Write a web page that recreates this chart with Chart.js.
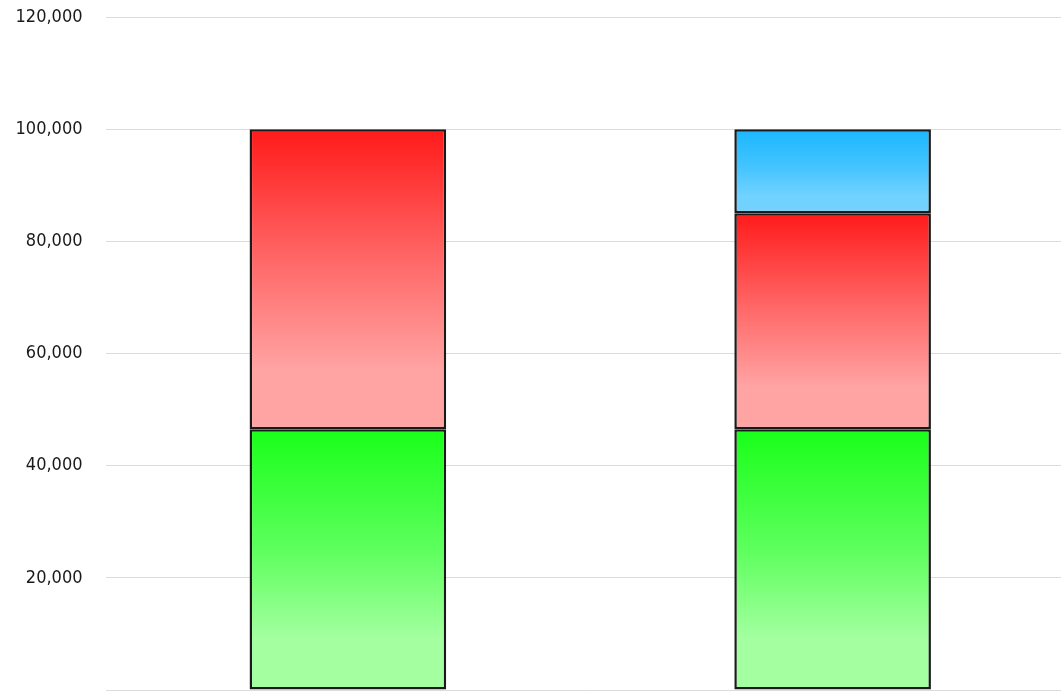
<!DOCTYPE html>
<html>
<head>
<meta charset="utf-8">
<script src="https://cdn.jsdelivr.net/npm/chart.js@4/dist/chart.umd.min.js"></script>
<style>
  html, body { margin: 0; padding: 0; background: #fff; overflow: hidden; }
  #wrap { position: absolute; left: 0; top: 0; width: 1075px; height: 691px; }
</style>
</head>
<body>
<div id="wrap"><canvas id="c"></canvas></div>
<script>
const categories = ['A', 'B'];
const greenValues = [46500, 46500];
const redValues = [53500, 38500];
const blueValues = [0, 15000];
const yTicks = [20000, 40000, 60000, 80000, 100000, 120000];

const seriesList = [greenValues, redValues, blueValues];
const gradStops = [
  ['#19ff19', '#5cff5c', '#a3ffa0'],
  ['#ff1a1a', '#ff6a6a', '#ffa3a3'],
  ['#1ab7ff', '#44c4ff', '#72d2ff']
];

function makeBg(dsIndex) {
  return function(ctx) {
    const chart = ctx.chart;
    if (!chart.chartArea || ctx.dataIndex === undefined) return gradStops[dsIndex][0];
    const y = chart.scales.y;
    let base = 0;
    for (let k = 0; k < dsIndex; k++) base += seriesList[k][ctx.dataIndex];
    const top = base + seriesList[dsIndex][ctx.dataIndex];
    const yTop = y.getPixelForValue(top);
    const yBot = y.getPixelForValue(base);
    if (!isFinite(yTop) || !isFinite(yBot) || yTop === yBot) return gradStops[dsIndex][0];
    const g = chart.ctx.createLinearGradient(0, yTop, 0, yBot);
    g.addColorStop(0, gradStops[dsIndex][0]);
    g.addColorStop(0.45, gradStops[dsIndex][1]);
    g.addColorStop(0.8, gradStops[dsIndex][2]);
    g.addColorStop(1, gradStops[dsIndex][2]);
    return g;
  };
}

const common = {
  borderColor: '#1a1a1a',
  borderWidth: 2.5,
  borderSkipped: false,
  categoryPercentage: 0.8,
  barPercentage: 0.507
};

new Chart(document.getElementById('c'), {
  type: 'bar',
  data: {
    labels: categories,
    datasets: [
      Object.assign({ label: 'Green', data: greenValues, backgroundColor: makeBg(0) }, common),
      Object.assign({ label: 'Red', data: redValues, backgroundColor: makeBg(1) }, common),
      Object.assign({ label: 'Blue', data: blueValues, backgroundColor: makeBg(2) }, common)
    ]
  },
  options: {
    responsive: true,
    maintainAspectRatio: false,
    animation: false,
    layout: { padding: { top: 17, bottom: 1, left: 0, right: 0 } },
    plugins: { legend: { display: false }, tooltip: { enabled: false } },
    scales: {
      x: {
        stacked: true,
        display: false
      },
      y: {
        stacked: true,
        min: 0,
        max: 120000,
        afterBuildTicks: function(scale) {
          scale.ticks = [0].concat(yTicks).map(v => ({ value: v }));
        },
        afterFit: function(scale) {
          scale.width = 105.5;
          scale.paddingTop = 0;
          scale.paddingBottom = 0;
        },
        ticks: {
          padding: 23,
          color: '#1a1a1a',
          font: { family: 'DejaVu Sans Condensed', size: 18 },
          callback: function(v) { return v === 0 ? '' : v.toLocaleString('en-US'); }
        },
        grid: { color: '#dcdcdc', lineWidth: 1, drawTicks: false },
        border: { display: false }
      }
    }
  }
});
</script>
</body>
</html>
